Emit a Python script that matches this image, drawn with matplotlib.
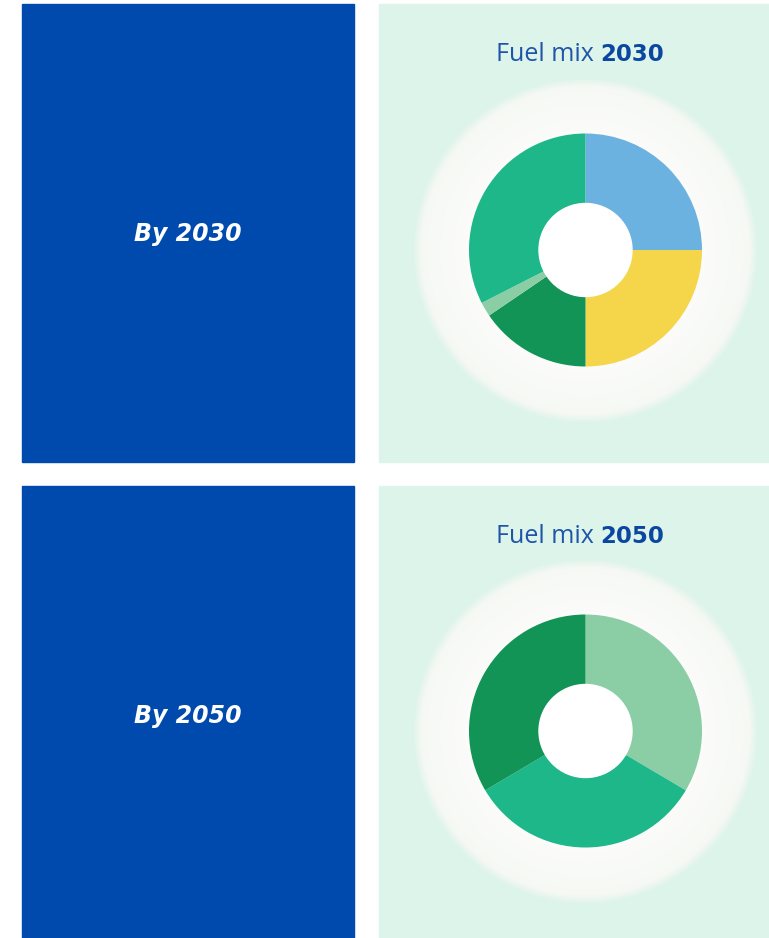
import numpy as np
import matplotlib.pyplot as plt
from matplotlib.patches import Rectangle, Circle

# Fuel mix shares (%), clockwise from 12 o'clock
mix_2030_labels = ["Solar", "Wind", "Hydro", "Biomass", "Other renewables"]
mix_2030_values = [25, 25, 15.5, 2, 32.5]
mix_2030_colors = ["#6CB2E1", "#F5D54A", "#119455", "#8BCEA5", "#1DB78A"]

mix_2050_labels = ["Biomass", "Other renewables", "Hydro"]
mix_2050_values = [33.5, 33, 33.5]
mix_2050_colors = ["#8BCEA5", "#1DB78A", "#119455"]

years = ["2030", "2050"]

W, H = 769, 938
fig = plt.figure(figsize=(W / 100, H / 100), dpi=100)
fig.patch.set_facecolor("white")
ax = fig.add_axes([0, 0, 1, 1])

BLUE = "#004AAD"
MINT = "#DDF4EA"


def glow(ax, cx, cy, R):
    # soft off-white disc behind the donut
    n = 400
    xs = np.linspace(cx - R * 1.1, cx + R * 1.1, n)
    ys = np.linspace(cy - R * 1.1, cy + R * 1.1, n)
    X, Y = np.meshgrid(xs, ys)
    r = np.sqrt((X - cx) ** 2 + (Y - cy) ** 2) / R
    img = np.zeros((n, n, 4))
    inner = np.array([0.995, 0.995, 0.99])
    edge = np.array([0.962, 0.972, 0.955])
    t = np.clip((r - 0.55) / 0.45, 0, 1)[..., None]
    img[..., :3] = inner * (1 - t) + edge * t
    img[..., 3] = np.clip((1.0 - r) / 0.05, 0, 1)
    ax.imshow(img, extent=(xs[0], xs[-1], ys[0], ys[-1]), origin="lower",
              zorder=2, interpolation="bilinear")


# top edge, bottom edge, label y, donut centre y, title y  (pixels from top)
panels = [
    (4, 462, 234, 250, 53, mix_2030_values, mix_2030_colors),
    (486, 938, 716, 731, 535, mix_2050_values, mix_2050_colors),
]

for (y0, y1, ly, cy, ty, vals, cols), year in zip(panels, years):
    ax.add_patch(Rectangle((22, H - y1), 332, y1 - y0, color=BLUE, zorder=1))
    ax.add_patch(Rectangle((379, H - y1), W - 379, y1 - y0, color=MINT, zorder=1))
    ax.text(188, H - ly, f"By {year}", color="white",
            fontsize=17, fontweight="bold", fontstyle="italic",
            family="DejaVu Sans", ha="center", va="center", zorder=5)

    cx = 585.5
    glow(ax, cx, H - cy - 1, 173)
    wedges, _ = ax.pie(vals, colors=cols, startangle=90,
                       counterclock=False, radius=116.5, center=(cx, H - cy),
                       wedgeprops=dict(width=116.5 - 46, linewidth=0))
    for w in wedges:
        w.set_zorder(3)
    ax.add_patch(Circle((cx, H - cy), 46.5, color="white", zorder=4))

    t1 = ax.text(0, 0, "Fuel mix ", fontsize=18, family="Open Sans",
                 fontweight="normal", color="#1F55A8", va="baseline")
    t2 = ax.text(0, 0, year, fontsize=16.5, family="DejaVu Sans",
                 fontweight="bold", color="#0B47A1", va="baseline")
    fig.canvas.draw()
    r = fig.canvas.get_renderer()
    w1 = t1.get_window_extent(r).width
    w2 = t2.get_window_extent(r).width
    xstart = 580 - (w1 + w2) / 2
    t1.set_position((xstart, H - ty - 8))
    t2.set_position((xstart + w1, H - ty - 8))

ax.set_xlim(0, W)
ax.set_ylim(0, H)
ax.set_aspect("auto")
ax.axis("off")

fig.savefig("out.png", dpi=100, facecolor="white")
